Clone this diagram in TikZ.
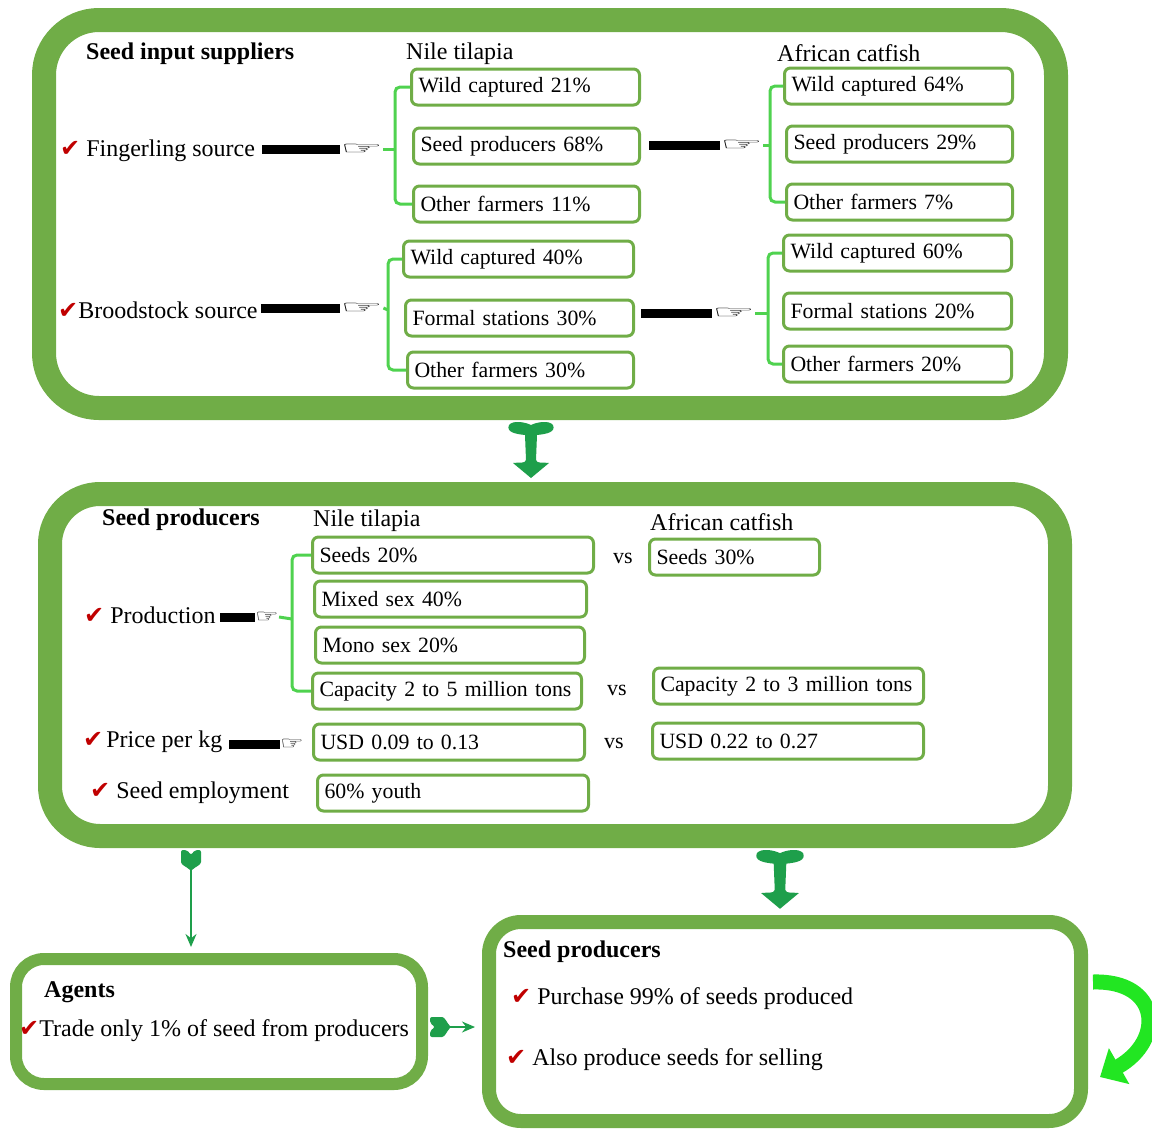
\documentclass[tikz,border=0pt]{standalone}
\usepackage{fontspec}
\setmainfont{Liberation Serif}
\newfontfamily\dejavu{DejaVu Sans}
\usetikzlibrary{arrows.meta,positioning}
\definecolor{panelgreen}{HTML}{70AD47}
\definecolor{bracegreen}{HTML}{4FD24F}
\definecolor{sproutgreen}{HTML}{1E9F4B}
\definecolor{curlgreen}{HTML}{22E622}
\definecolor{tickred}{HTML}{C00000}
\newcommand{\chk}{{\dejavu\color{tickred}✔}}
\newcommand{\hand}[1]{\scalebox{#1}[0.75]{\dejavu\fontsize{24}{24}\selectfont ☞}}

\begin{document}
\begin{tikzpicture}[
  x=1pt,y=-1pt,
  font=\fontsize{24}{28}\selectfont,
  panel/.style={draw=panelgreen,inner sep=0,line width=24pt,rounded corners=55pt},
  box/.style={draw=panelgreen,line width=3pt,rounded corners=6pt,fill=white,anchor=west,minimum height=36pt,inner xsep=7pt,inner ysep=2pt,text width=#1,align=left,font=\fontsize{21.8}{26}\selectfont},
  lab/.style={anchor=west,inner sep=0},
  hd/.style={lab,font=\fontsize{24}{28}\selectfont\bfseries},
  vs/.style={inner sep=0,font=\fontsize{22}{26}\selectfont},
  brace/.style={draw=bracegreen,line width=3pt,rounded corners=5pt},
  bar/.style={line width=9pt,black},
  handn/.style={inner sep=0,anchor=west},
  thinarr/.style={draw=sproutgreen,line width=1.5pt,-{Stealth[length=13pt,width=11pt]}},
  curl/.style={curlgreen,line width=15pt,-{Triangle[length=22pt,width=40pt]}},
  sprout/.pic={
    \fill[sproutgreen] (0,3) .. controls (6,0) and (18,-2) .. (22,3)
      .. controls (25,10) and (16,12) .. (6,13) -- (5,38)
      .. controls (6,42) and (12,40) .. (18,41) -- (0,56) -- (-18,41)
      .. controls (-12,40) and (-6,42) .. (-5,38) -- (-6,13)
      .. controls (-16,12) and (-25,10) .. (-22,3)
      .. controls (-18,-2) and (-6,0) .. (0,3) -- cycle;
  },
  tulip/.pic={
    \fill[sproutgreen,rounded corners=2pt] (-10,0) -- (-4,0) -- (0,5) -- (4,0) -- (10,0) -- (10,10)
      .. controls (10,15) and (4,17) .. (0,21) .. controls (-4,17) and (-10,15) .. (-10,10) -- cycle;
  }
]
  \useasboundingbox (0,0) rectangle (1152,1128);

  % panels
  \node[panel,minimum width=1012pt,minimum height=388pt] (supp) at (550,214) {};
  \node[panel,minimum width=1010pt,minimum height=342pt,rounded corners=50pt] (prodn) at (555,665) {};
  \node[panel,minimum width=406pt,minimum height=125pt,line width=12pt,rounded corners=28pt] (agents) at (219,1021.5) {};
  \node[panel,minimum width=592pt,minimum height=199pt,line width=14pt,rounded corners=32pt] (buyers) at (785,1021.5) {};

  % seed input suppliers
  \node[hd] (supphd) at (86,54) {Seed input suppliers};
  \node[lab] (ntil1) at (406,54) {Nile tilapia};
  \node[lab] (acat1) at (777,53) {African catfish};
  \node[lab] (fsrc) at (60,151) {\chk\ Fingerling source};
  \node[lab] (bsrc) at (58,310) {\chk Broodstock source};

  \node[box=214pt] (tf1) at (410,87) {Wild captured 21\%};
  \node[box=212pt] (tf2) at (412,146) {Seed producers 68\%};
  \node[box=212pt] (tf3) at (412,204) {Other farmers 11\%};
  \node[box=214pt] (cf1) at (783,86) {Wild captured 64\%};
  \node[box=212pt] (cf2) at (785,144) {Seed producers 29\%};
  \node[box=212pt] (cf3) at (785,202) {Other farmers 7\%};
  \node[box=216pt] (tb1) at (402,259) {Wild captured 40\%};
  \node[box=214pt] (tb2) at (404,318) {Formal stations 30\%};
  \node[box=212pt] (tb3) at (406,370) {Other farmers 30\%};
  \node[box=214pt] (cb1) at (782,253) {Wild captured 60\%};
  \node[box=214pt] (cb2) at (782,311) {Formal stations 20\%};
  \node[box=214pt] (cb3) at (782,364) {Other farmers 20\%};

  \node[handn] (fhand) at (340,149) {\hand{2}};
  \node[handn] (cfhand) at (720,145) {\hand{2}};
  \node[handn] (bhand) at (340,308) {\hand{2}};
  \node[handn] (cbhand) at (712,313) {\hand{2}};
  \coordinate (fbr) at (395,149);
  \coordinate (cfbr) at (770,145);
  \coordinate (bbr) at (388,310);
  \coordinate (cbbr) at (768,313);

  \draw[bar,shorten <=7pt] (fsrc.east |- fhand) -- (fhand.west);
  \draw[bar,shorten <=8pt] (tf2.east |- cfhand) -- (cfhand.west);
  \draw[bar,shorten <=3pt] (bsrc.east |- bhand) -- (bhand.west);
  \draw[bar,shorten <=6pt] (tb2.east |- cbhand) -- (cbhand.west);

  \draw[brace] (tf1.west) -| (fbr) |- (tf3.west);
  \draw[brace] (fbr) -- (fhand.east);
  \draw[brace] (cf1.west) -| (cfbr) |- (cf3.west);
  \draw[brace] (cfbr) -- (cfhand.east);
  \draw[brace] (tb1.west) -| (bbr) |- (tb3.west);
  \draw[brace] (bbr) -- (bhand.east);
  \draw[brace] (cb1.west) -| (cbbr) |- (cb3.west);
  \draw[brace] (cbbr) -- (cbhand.east);

  % seed producers
  \node[hd] (prodhd) at (102,520) {Seed producers};
  \node[lab] (ntil2) at (313,521) {Nile tilapia};
  \node[lab] (acat2) at (650,522) {African catfish};
  \node[lab] (prod) at (84,615) {\chk\ Production};
  \node[lab] (price) at (83,742) {\chk\kern3pt Price per kg};
  \node[lab] (empl) at (90,793) {\chk\ Seed employment};

  \node[box=267pt] (s1) at (311,555) {Seeds 20\%};
  \node[box=258pt] (s2) at (313,599) {Mixed sex 40\%};
  \node[box=255pt] (s3) at (314,645) {Mono sex 20\%};
  \node[box=255pt] (s4) at (311,691) {Capacity~2~to~5~million~tons};
  \node[box=156pt] (c1) at (648,557) {Seeds 30\%};
  \node[box=256pt] (c4) at (652,686) {Capacity~2~to~3~million~tons};
  \node[box=257pt] (up1) at (312,742) {USD 0.09 to 0.13};
  \node[box=257pt] (up2) at (651,741) {USD 0.22 to 0.27};
  \node[box=257pt] (yth) at (316,793) {60\% youth};
  \node[vs] (vs1) at (623,558) {vs};
  \node[vs] (vs2) at (617,690) {vs};
  \node[vs] (vs3) at (614,743) {vs};

  \node[handn] (phand) at (255,617) {\hand{1.1}};
  \node[handn] (prhand) at (280,744) {\hand{1.1}};
  \coordinate (pbr) at (292,619);
  \draw[bar,shorten <=4pt] (prod.east |- phand) -- (phand.west);
  \draw[bar,shorten <=7pt] (price.east |- prhand) -- (prhand.west);
  \draw[brace] (s1.west) -| (pbr) |- (s4.west);
  \draw[brace] (pbr) -- (phand.east);

  % agents and buyers
  \node[hd] (aghd) at (44,992) {Agents};
  \node[lab] (trade) at (19,1031) {\chk Trade only 1\% of seed from producers};
  \node[hd] (buyhd) at (503,952) {Seed producers};
  \node[lab] (buy1) at (511,999) {\chk\ Purchase 99\% of seeds produced};
  \node[lab] (buy2) at (506,1060) {\chk\ Also produce seeds for selling};

  % connectors
  \pic at (531,422) {sprout};
  \pic[scale=1.05] at (780,850) {sprout};
  \coordinate (lt) at (191,850);
  \coordinate (ay) at (430,1027);
  \pic at (lt) {tulip};
  \draw[thinarr,shorten >=6pt] ([yshift=-18pt]lt) -- (lt |- agents.north);
  \pic[rotate=90] at (ay) {tulip};
  \draw[thinarr,shorten >=7pt] ([xshift=16pt]ay) -- (buyers.west |- ay);
  \draw[curl] (1093,982) .. controls (1160,980) and (1165,1040) .. (1100,1077);
\end{tikzpicture}
\end{document}
